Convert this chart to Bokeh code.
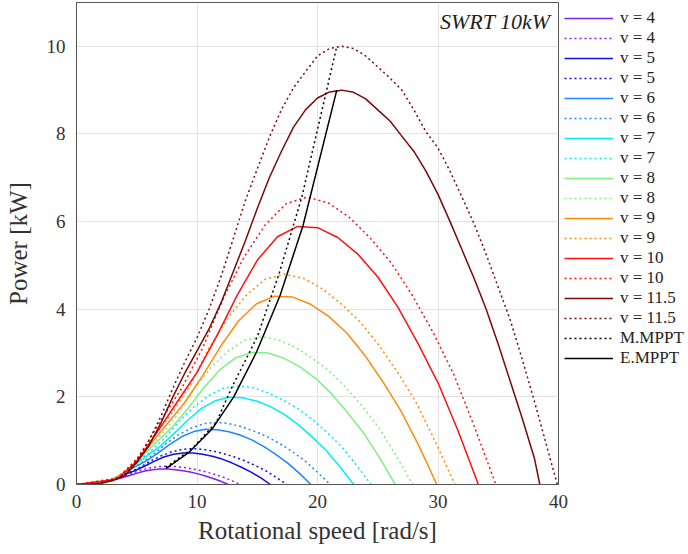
from bokeh.plotting import figure
from bokeh.models import Range1d, FixedTicker, Legend, LegendItem, Label
from bokeh.embed import file_html
from bokeh.resources import INLINE

# ---------------- data ----------------
# solid curves
w_v4 = [0, 1.26, 1.89, 2.52, 3.15, 3.78, 4.41, 5.04, 5.67, 6.3, 6.93, 7.56, 8.19, 8.82, 9.45, 10.08, 10.71, 11.34, 11.97, 12.6]
p_v4 = [0, .007, .031, .071, .113, .153, .204, .259, .307, .339, .353, .351, .338, .315, .284, .242, .193, .138, .073, 0]
w_v5 = [0, 1.61, 2.42, 3.22, 4.03, 4.83, 5.64, 6.44, 7.25, 8.05, 8.86, 9.66, 10.47, 11.27, 12.08, 12.88, 13.69, 14.49, 15.3, 16.1]
p_v5 = [0, .0145, .064, .145, .23, .313, .417, .529, .627, .692, .721, .718, .69, .644, .58, .495, .394, .283, .149, 0]
w_v6 = [0, 1.95, 2.92, 3.89, 4.86, 5.84, 6.81, 7.78, 8.75, 9.73, 10.7, 11.67, 12.64, 13.62, 14.59, 15.56, 16.53, 17.51, 18.48, 19.45]
p_v6 = [0, .025, .111, .253, .401, .546, .727, .923, 1.094, 1.208, 1.259, 1.252, 1.204, 1.123, 1.012, .864, .687, .493, .259, 0]
w_v7 = [0, 2.3, 3.45, 4.6, 5.75, 6.9, 8.05, 9.2, 10.35, 11.5, 12.65, 13.8, 14.95, 16.1, 17.25, 18.4, 19.55, 20.7, 21.85, 23.0]
p_v7 = [0, .04, .176, .40, .634, .864, 1.15, 1.46, 1.73, 1.91, 1.99, 1.98, 1.904, 1.776, 1.60, 1.366, 1.086, .78, .41, 0]
w_v8 = [0, 2.65, 3.97, 5.29, 6.61, 7.94, 9.26, 10.58, 11.9, 13.23, 14.55, 15.87, 17.19, 18.52, 19.84, 21.16, 22.48, 23.81, 25.13, 26.45]
p_v8 = [0, .061, .267, .606, .96, 1.309, 1.742, 2.212, 2.621, 2.894, 3.015, 3.0, 2.885, 2.691, 2.424, 2.069, 1.645, 1.182, .621, 0]
w_v9 = [0, 2.99, 4.49, 5.98, 7.48, 8.97, 10.47, 11.96, 13.46, 14.95, 16.45, 17.94, 19.44, 20.93, 22.43, 23.92, 25.42, 26.91, 28.41, 29.9]
p_v9 = [0, .086, .38, .864, 1.369, 1.866, 2.484, 3.154, 3.737, 4.126, 4.298, 4.277, 4.113, 3.836, 3.456, 2.951, 2.346, 1.685, .886, 0]
w_v10 = [0, 3.34, 5.0, 6.67, 8.34, 10.0, 11.67, 13.34, 15.01, 16.68, 18.34, 20.01, 21.68, 23.35, 25.01, 26.68, 28.35, 30.02, 31.68, 33.35]
p_v10 = [0, .118, .521, 1.184, 1.877, 2.557, 3.404, 4.322, 5.121, 5.654, 5.89, 5.861, 5.636, 5.257, 4.736, 4.043, 3.215, 2.309, 1.214, 0]
w_v115 = [0, 1, 2, 3, 4, 5, 6, 7, 8, 9, 10, 11, 12, 13, 14, 15, 16, 17, 18, 19, 20, 21, 22, 23, 24, 25, 26, 27, 28, 29, 30, 31, 32, 33, 34, 35, 36, 37, 38, 38.45]
p_v115 = [0, .005, .03, .09, .2, .5, .88, 1.4, 2.0, 2.55, 3.05, 3.55, 4.15, 4.85, 5.55, 6.3, 7.0, 7.6, 8.15, 8.55, 8.82, 8.96, 9.0, 8.95, 8.8, 8.55, 8.3, 7.95, 7.6, 7.15, 6.62, 6.0, 5.35, 4.7, 4.0, 3.2, 2.35, 1.5, 0.6, 0]

# dotted curves
w_v4_dot = [0, 1.36, 2.04, 2.72, 3.4, 4.08, 4.76, 5.44, 6.12, 6.8, 7.48, 8.16, 8.84, 9.52, 10.2, 10.88, 11.56, 12.24, 12.92, 13.6]
p_v4_dot = [0, .0097, .042, .092, .14, .198, .272, .333, .379, .41, .42, .412, .391, .36, .324, .277, .223, .16, .083, 0]
w_v5_dot = [0, 1.75, 2.62, 3.49, 4.36, 5.24, 6.11, 6.98, 7.85, 8.73, 9.6, 10.47, 11.34, 12.22, 13.09, 13.96, 14.83, 15.71, 16.58, 17.45]
p_v5_dot = [0, .019, .082, .18, .273, .387, .531, .649, .74, .801, .82, .804, .763, .704, .633, .541, .435, .313, .162, 0]
w_v6_dot = [0, 2.11, 3.16, 4.21, 5.26, 6.32, 7.37, 8.42, 9.47, 10.53, 11.58, 12.63, 13.68, 14.74, 15.79, 16.84, 17.89, 18.95, 20.0, 21.05]
p_v6_dot = [0, .033, .142, .312, .473, .67, .919, 1.125, 1.282, 1.387, 1.42, 1.392, 1.321, 1.218, 1.096, .937, .753, .542, .28, 0]
w_v7_dot = [0, 2.45, 3.67, 4.89, 6.11, 7.34, 8.56, 9.78, 11.0, 12.23, 13.45, 14.67, 15.89, 17.12, 18.34, 19.56, 20.78, 22.01, 23.23, 24.45]
p_v7_dot = [0, .052, .225, .495, .749, 1.062, 1.456, 1.782, 2.032, 2.198, 2.25, 2.205, 2.093, 1.931, 1.737, 1.485, 1.193, .86, .443, 0]
w_v8_dot = [0, 2.79, 4.19, 5.58, 6.98, 8.37, 9.77, 11.16, 12.56, 13.95, 15.35, 16.74, 18.14, 19.53, 20.93, 22.32, 23.72, 25.11, 26.51, 27.9]
p_v8_dot = [0, .078, .337, .741, 1.122, 1.591, 2.18, 2.669, 3.043, 3.292, 3.37, 3.303, 3.134, 2.891, 2.602, 2.224, 1.786, 1.287, .664, 0]
w_v9_dot = [0, 3.14, 4.71, 6.28, 7.85, 9.42, 10.99, 12.56, 14.13, 15.7, 17.27, 18.84, 20.41, 21.98, 23.55, 25.12, 26.69, 28.26, 29.83, 31.4]
p_v9_dot = [0, .11, .48, 1.056, 1.598, 2.266, 3.106, 3.802, 4.334, 4.69, 4.8, 4.704, 4.464, 4.118, 3.706, 3.168, 2.544, 1.834, .946, 0]
w_v10_dot = [0, 3.48, 5.22, 6.96, 8.7, 10.44, 12.18, 13.92, 15.66, 17.4, 19.14, 20.88, 22.62, 24.36, 26.1, 27.84, 29.58, 31.32, 33.06, 34.8]
p_v10_dot = [0, .151, .656, 1.443, 2.184, 3.096, 4.244, 5.196, 5.924, 6.409, 6.56, 6.429, 6.101, 5.628, 5.064, 4.33, 3.477, 2.506, 1.292, 0]
w_v115_dot = [0, 1, 2, 3, 4, 5, 6, 7, 8, 9, 10, 11, 12, 13, 14, 15, 16, 17, 18, 19, 20, 21, 22, 23, 24, 25, 26, 27, 28, 29, 30, 31, 32, 33, 34, 35, 36, 37, 38, 39, 39.9]
p_v115_dot = [0, .006, .035, .1, .23, .55, 1.0, 1.55, 2.2, 2.8, 3.35, 4.0, 4.75, 5.6, 6.47, 7.2, 7.92, 8.55, 9.05, 9.42, 9.78, 9.95, 10.0, 9.95, 9.78, 9.53, 9.28, 9.0, 8.55, 8.05, 7.68, 7.15, 6.55, 5.95, 5.25, 4.5, 3.75, 2.85, 1.9, 0.9, 0]

# MPPT tracks
w_mmppt = [7.4, 9.6, 11.6, 12.95, 15.0, 16.8, 18.7, 21.6]
p_mmppt = [0.39, 0.82, 1.42, 2.25, 3.37, 4.8, 6.56, 10.0]
w_emppt = [7.45, 9.3, 11.25, 13.05, 14.95, 16.9, 18.8, 21.6]
p_emppt = [0.37, 0.725, 1.265, 2.0, 3.03, 4.32, 5.91, 9.0]

speed_labels = ["4", "5", "6", "7", "8", "9", "10", "11.5"]
x_ticks = [0, 10, 20, 30, 40]
y_ticks = [0, 2, 4, 6, 8, 10]

# ---------------- figure ----------------
FONT = "Liberation Serif"
p = figure(frame_width=482, frame_height=482, output_backend="svg", toolbar_location=None,
           x_range=Range1d(0, 40), y_range=Range1d(0, 11),
           min_border_left=76, min_border_right=130, min_border_top=2, min_border_bottom=70)

p.outline_line_color = "#555555"
p.outline_line_width = 1
p.background_fill_color = "white"
p.border_fill_color = "white"

for ax in (p.xaxis[0], p.yaxis[0]):
    ax.axis_line_color = "#555555"
    ax.major_tick_line_color = None
    ax.minor_tick_line_color = None
    ax.major_tick_out = 0
    ax.major_tick_in = 0
    ax.minor_tick_out = 0
    ax.minor_tick_in = 0
    ax.major_label_text_font = FONT
    ax.major_label_text_font_size = "19px"
    ax.major_label_text_color = "#333333"
    ax.axis_label_text_font = FONT
    ax.axis_label_text_font_style = "normal"
    ax.axis_label_text_font_size = "25px"
    ax.axis_label_text_color = "#333333"

p.xaxis.ticker = FixedTicker(ticks=x_ticks)
p.yaxis.ticker = FixedTicker(ticks=y_ticks)
p.xaxis.axis_label = "Rotational speed [rad/s]"
p.yaxis.axis_label = "Power [kW]"
p.xaxis.major_label_standoff = 10
p.yaxis.major_label_standoff = 11
p.xaxis.axis_label_standoff = 6
p.yaxis.axis_label_standoff = 12

p.xgrid.ticker = FixedTicker(ticks=x_ticks)
p.ygrid.ticker = FixedTicker(ticks=y_ticks)
p.grid.grid_line_color = "#e3e3e3"
p.grid.grid_line_width = 1

colors = ["#8020f0", "#1010e0", "#1e88ff", "#00f0f0", "#80f080", "#ff8a10", "#ff1010", "#7a0808"]
solid = [(w_v4, p_v4), (w_v5, p_v5), (w_v6, p_v6), (w_v7, p_v7), (w_v8, p_v8), (w_v9, p_v9), (w_v10, p_v10), (w_v115, p_v115)]
dotted = [(w_v4_dot, p_v4_dot), (w_v5_dot, p_v5_dot), (w_v6_dot, p_v6_dot), (w_v7_dot, p_v7_dot),
          (w_v8_dot, p_v8_dot), (w_v9_dot, p_v9_dot), (w_v10_dot, p_v10_dot), (w_v115_dot, p_v115_dot)]

DOT = "2 3"
items = []
for lab, col, (xs, ys), (xd, yd) in zip(speed_labels, colors, solid, dotted):
    r1 = p.line(xs, ys, line_color=col, line_width=1.5)
    r2 = p.line(xd, yd, line_color=col, line_width=1.5, line_dash=DOT)
    items.append(LegendItem(label="v = " + lab, renderers=[r1]))
    items.append(LegendItem(label="v = " + lab, renderers=[r2]))

rm = p.line(w_mmppt, p_mmppt, line_color="black", line_width=1.5, line_dash=DOT)
re = p.line(w_emppt, p_emppt, line_color="black", line_width=1.5)
items.append(LegendItem(label="M.MPPT", renderers=[rm]))
items.append(LegendItem(label="E.MPPT", renderers=[re]))

legend = Legend(items=items, location="top_left", padding=6, margin=0, spacing=0,
                glyph_width=49, glyph_height=20, label_height=20, label_standoff=7,
                label_text_font=FONT, label_text_font_size="17px", label_text_color="#222222",
                border_line_alpha=0, background_fill_alpha=0)
p.add_layout(legend, "right")

title = Label(x=474, y=476, x_units="screen", y_units="screen", text="SWRT 10kW",
              text_font=FONT, text_font_style="italic", text_font_size="22px",
              text_align="right", text_baseline="top", text_color="#222222")
p.add_layout(title)

open("out.html", "w").write(file_html(p, INLINE))
